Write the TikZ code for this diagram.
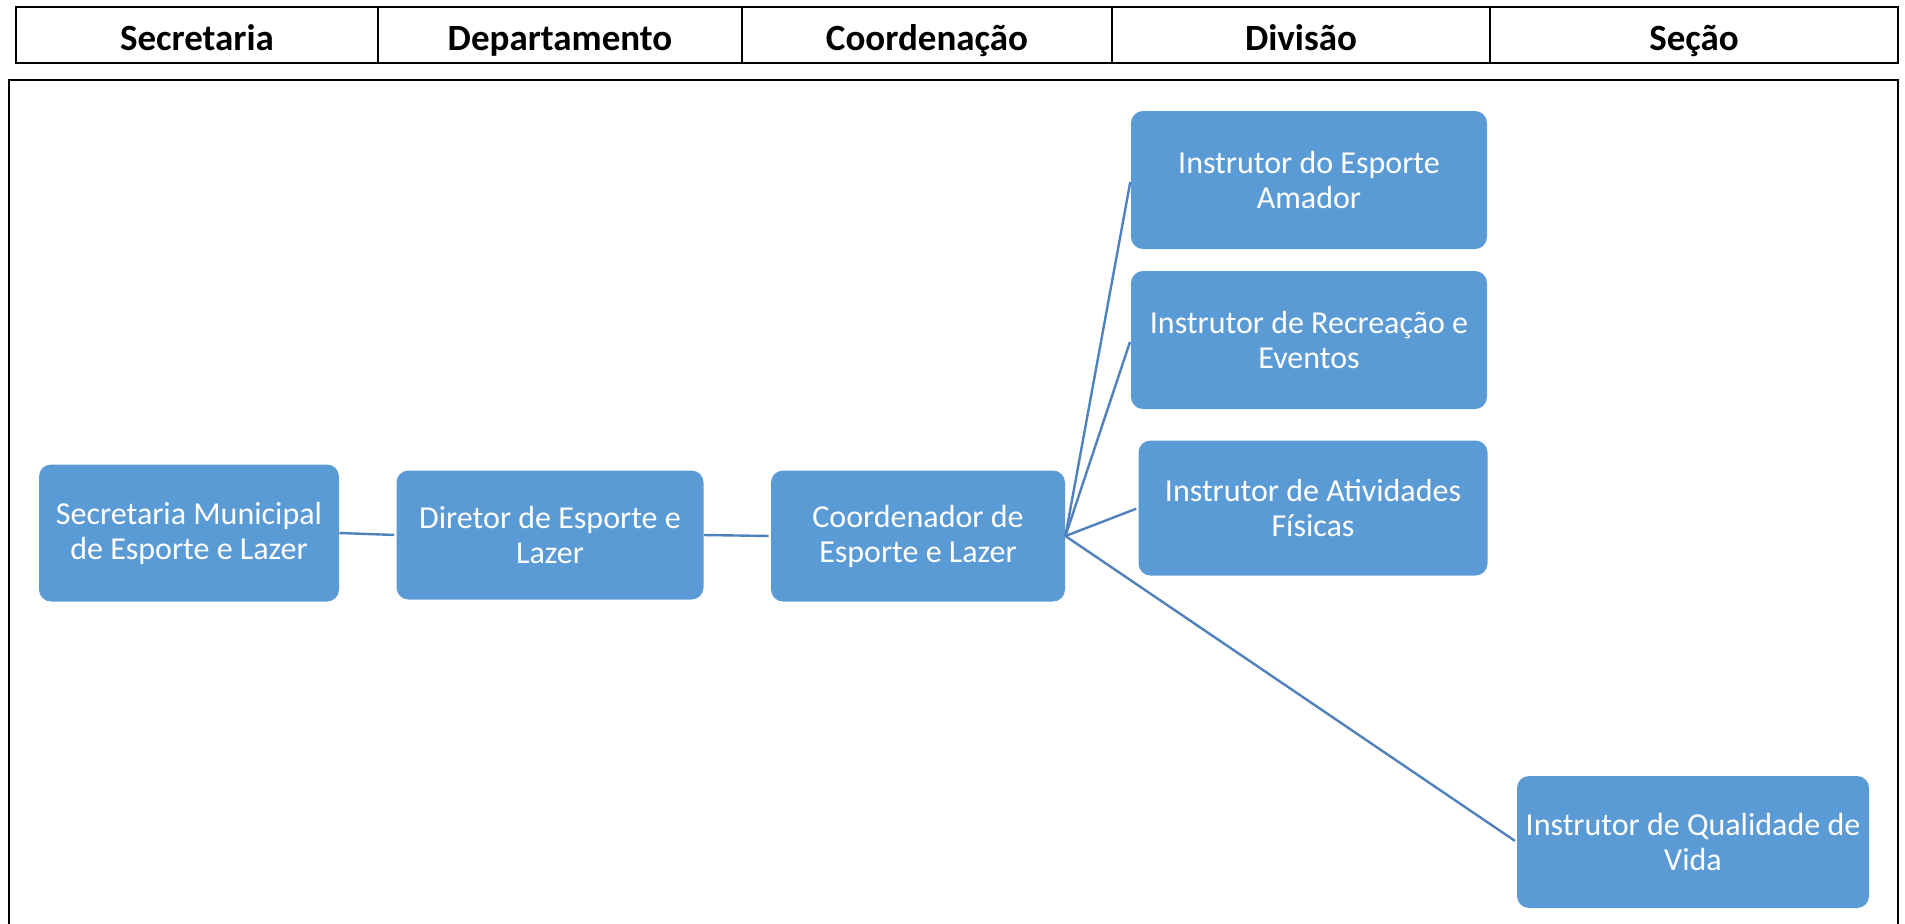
\documentclass[tikz,border=0pt]{standalone}
\usepackage{fontspec}
\setmainfont{Carlito}
\definecolor{boxblue}{HTML}{5B9BD5}
\definecolor{lineblue}{HTML}{4F81BD}
\begin{document}
\begin{tikzpicture}[x=0.5pt,y=-0.5pt,
   cell/.style={draw,line width=1pt,inner sep=0pt,minimum height=28pt,
                text height=17pt,text depth=2pt,
                font=\fontsize{18.5}{22}\selectfont\bfseries},
   unit/.style={fill=boxblue,rounded corners=6pt,inner sep=0pt,text=white,
                align=center,font=\fontsize{16}{17.5}\selectfont},
   link/.style={draw=lineblue,line width=1.2pt,shorten >=1pt}]

\useasboundingbox (0,0) rectangle (1905,923);

\node[cell,minimum width=181pt] (hsec) at (197,35) {Secretaria};
\node[cell,minimum width=182pt] (hdep) at (560,35) {Departamento};
\node[cell,minimum width=185pt] (hcoo) at (927,35) {Coordenação};
\node[cell,minimum width=189pt] (hdiv) at (1301,35) {Divisão};
\node[cell,minimum width=204pt] (hsec2) at (1694,35) {Seção};

\draw[line width=0.8pt] (9,930) -- (9,80) -- (1898,80) -- (1898,930);

\node[unit,minimum width=150pt,minimum height=68.5pt] (sec) at (189,533)
    {Secretaria Municipal\\de Esporte e Lazer};
\node[unit,minimum width=153.5pt,minimum height=64.5pt] (dir) at (550,535)
    {Diretor de Esporte e\\Lazer};
\node[unit,minimum width=147pt,minimum height=65.5pt] (coord) at (918,536)
    {Coordenador de\\Esporte e Lazer};
\node[unit,minimum width=178pt,minimum height=69pt] (amador) at (1309,180)
    {Instrutor do Esporte\\Amador};
\node[unit,minimum width=178pt,minimum height=69pt] (recre) at (1309,340)
    {Instrutor de Recreação e\\Eventos};
\node[unit,minimum width=174.5pt,minimum height=67.5pt] (ativ) at (1313,508)
    {Instrutor de Atividades\\Físicas};
\node[unit,minimum width=176pt,minimum height=66pt] (qual) at (1693,842)
    {Instrutor de Qualidade de\\Vida};

\path[link] (sec.east) -- (dir.west);
\path[link] (dir.east) -- (coord.west);
\foreach \to in {amador,recre,ativ,qual}
    \path[link] (coord.east) -- (\to.west);

\end{tikzpicture}
\end{document}
